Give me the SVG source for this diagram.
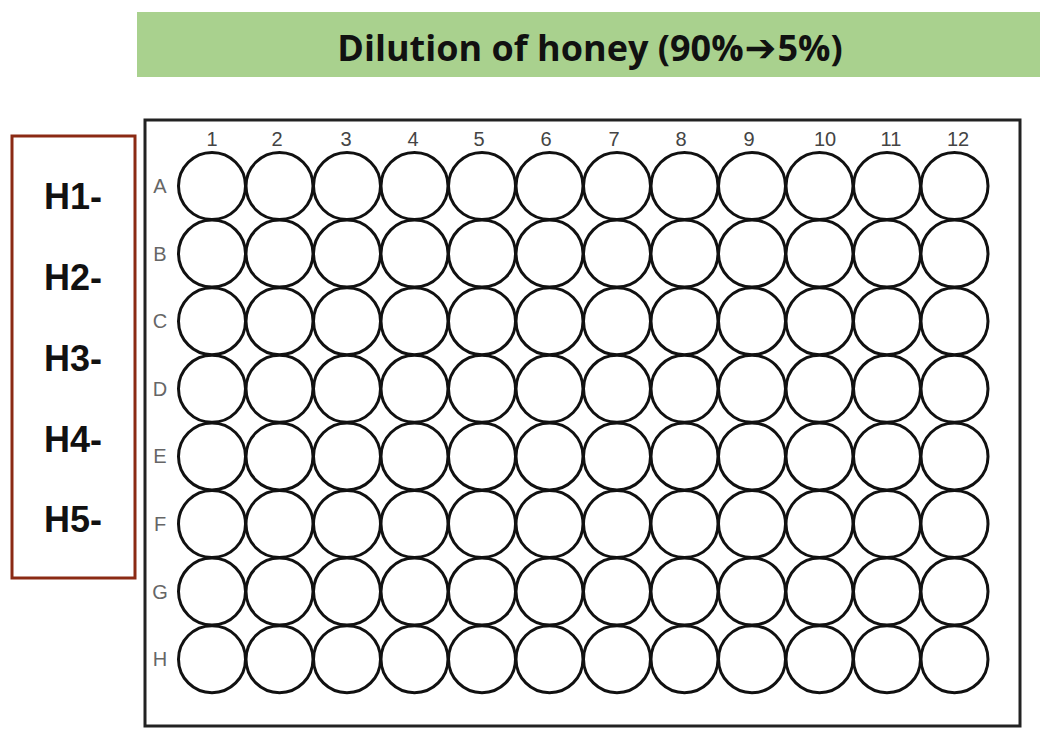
<svg xmlns="http://www.w3.org/2000/svg" width="1040" height="740" viewBox="0 0 1040 740">
<style>
.well{fill:#fff;stroke:#111;stroke-width:3}
.col{font-family:"Liberation Sans",Arial,sans-serif;font-size:20px;fill:#444;text-anchor:middle}
.row{font-family:"Liberation Sans",Arial,sans-serif;font-size:20px;fill:#666;text-anchor:middle}
.h{font-family:"Liberation Sans",Arial,sans-serif;font-size:36px;font-weight:bold;fill:#111}
</style>
<rect width="1040" height="740" fill="#fff"/>
<g id="title">
<rect x="137" y="12" width="903" height="65" fill="#a9d18e"/>
<text x="590" y="61" text-anchor="middle" font-family="'Open Sans',sans-serif" font-weight="bold" font-size="36" fill="#111">Dilution of honey (90%<tspan font-family="'DejaVu Sans',sans-serif" font-size="38" dx="1">➔</tspan><tspan dx="1">5%)</tspan></text>
</g>
<g id="legend">
<rect x="12" y="136" width="123" height="442" fill="none" stroke="#8b2a14" stroke-width="3"/>
<text class="h" x="44" y="209">H1-</text>
<text class="h" x="44" y="290">H2-</text>
<text class="h" x="44" y="371">H3-</text>
<text class="h" x="44" y="452">H4-</text>
<text class="h" x="44" y="532">H5-</text>
</g>
<g id="plate">
<rect x="145" y="120" width="875" height="606" fill="#fff" stroke="#222" stroke-width="3"/>
<g id="col-labels">
<text class="col" x="212" y="146">1</text>
<text class="col" x="277" y="146">2</text>
<text class="col" x="346" y="146">3</text>
<text class="col" x="413" y="146">4</text>
<text class="col" x="479" y="146">5</text>
<text class="col" x="546" y="146">6</text>
<text class="col" x="614" y="146">7</text>
<text class="col" x="681" y="146">8</text>
<text class="col" x="749" y="146">9</text>
<text class="col" x="825" y="146">10</text>
<text class="col" x="891" y="146">11</text>
<text class="col" x="958" y="146">12</text>
</g>
<g id="row-labels">
<text class="row" x="160" y="193">A</text>
<text class="row" x="160" y="261">B</text>
<text class="row" x="160" y="328">C</text>
<text class="row" x="160" y="396">D</text>
<text class="row" x="160" y="463">E</text>
<text class="row" x="160" y="531">F</text>
<text class="row" x="160" y="599">G</text>
<text class="row" x="160" y="666">H</text>
</g>
<g id="wells">
<circle class="well" cx="212" cy="186" r="33.5"/><circle class="well" cx="279.5" cy="186" r="33.5"/><circle class="well" cx="347" cy="186" r="33.5"/><circle class="well" cx="414.5" cy="186" r="33.5"/><circle class="well" cx="482" cy="186" r="33.5"/><circle class="well" cx="549.5" cy="186" r="33.5"/><circle class="well" cx="617" cy="186" r="33.5"/><circle class="well" cx="684.5" cy="186" r="33.5"/><circle class="well" cx="752" cy="186" r="33.5"/><circle class="well" cx="819.5" cy="186" r="33.5"/><circle class="well" cx="887" cy="186" r="33.5"/><circle class="well" cx="954.5" cy="186" r="33.5"/>
<circle class="well" cx="212" cy="253.6" r="33.5"/><circle class="well" cx="279.5" cy="253.6" r="33.5"/><circle class="well" cx="347" cy="253.6" r="33.5"/><circle class="well" cx="414.5" cy="253.6" r="33.5"/><circle class="well" cx="482" cy="253.6" r="33.5"/><circle class="well" cx="549.5" cy="253.6" r="33.5"/><circle class="well" cx="617" cy="253.6" r="33.5"/><circle class="well" cx="684.5" cy="253.6" r="33.5"/><circle class="well" cx="752" cy="253.6" r="33.5"/><circle class="well" cx="819.5" cy="253.6" r="33.5"/><circle class="well" cx="887" cy="253.6" r="33.5"/><circle class="well" cx="954.5" cy="253.6" r="33.5"/>
<circle class="well" cx="212" cy="321.2" r="33.5"/><circle class="well" cx="279.5" cy="321.2" r="33.5"/><circle class="well" cx="347" cy="321.2" r="33.5"/><circle class="well" cx="414.5" cy="321.2" r="33.5"/><circle class="well" cx="482" cy="321.2" r="33.5"/><circle class="well" cx="549.5" cy="321.2" r="33.5"/><circle class="well" cx="617" cy="321.2" r="33.5"/><circle class="well" cx="684.5" cy="321.2" r="33.5"/><circle class="well" cx="752" cy="321.2" r="33.5"/><circle class="well" cx="819.5" cy="321.2" r="33.5"/><circle class="well" cx="887" cy="321.2" r="33.5"/><circle class="well" cx="954.5" cy="321.2" r="33.5"/>
<circle class="well" cx="212" cy="388.8" r="33.5"/><circle class="well" cx="279.5" cy="388.8" r="33.5"/><circle class="well" cx="347" cy="388.8" r="33.5"/><circle class="well" cx="414.5" cy="388.8" r="33.5"/><circle class="well" cx="482" cy="388.8" r="33.5"/><circle class="well" cx="549.5" cy="388.8" r="33.5"/><circle class="well" cx="617" cy="388.8" r="33.5"/><circle class="well" cx="684.5" cy="388.8" r="33.5"/><circle class="well" cx="752" cy="388.8" r="33.5"/><circle class="well" cx="819.5" cy="388.8" r="33.5"/><circle class="well" cx="887" cy="388.8" r="33.5"/><circle class="well" cx="954.5" cy="388.8" r="33.5"/>
<circle class="well" cx="212" cy="456.4" r="33.5"/><circle class="well" cx="279.5" cy="456.4" r="33.5"/><circle class="well" cx="347" cy="456.4" r="33.5"/><circle class="well" cx="414.5" cy="456.4" r="33.5"/><circle class="well" cx="482" cy="456.4" r="33.5"/><circle class="well" cx="549.5" cy="456.4" r="33.5"/><circle class="well" cx="617" cy="456.4" r="33.5"/><circle class="well" cx="684.5" cy="456.4" r="33.5"/><circle class="well" cx="752" cy="456.4" r="33.5"/><circle class="well" cx="819.5" cy="456.4" r="33.5"/><circle class="well" cx="887" cy="456.4" r="33.5"/><circle class="well" cx="954.5" cy="456.4" r="33.5"/>
<circle class="well" cx="212" cy="524" r="33.5"/><circle class="well" cx="279.5" cy="524" r="33.5"/><circle class="well" cx="347" cy="524" r="33.5"/><circle class="well" cx="414.5" cy="524" r="33.5"/><circle class="well" cx="482" cy="524" r="33.5"/><circle class="well" cx="549.5" cy="524" r="33.5"/><circle class="well" cx="617" cy="524" r="33.5"/><circle class="well" cx="684.5" cy="524" r="33.5"/><circle class="well" cx="752" cy="524" r="33.5"/><circle class="well" cx="819.5" cy="524" r="33.5"/><circle class="well" cx="887" cy="524" r="33.5"/><circle class="well" cx="954.5" cy="524" r="33.5"/>
<circle class="well" cx="212" cy="591.6" r="33.5"/><circle class="well" cx="279.5" cy="591.6" r="33.5"/><circle class="well" cx="347" cy="591.6" r="33.5"/><circle class="well" cx="414.5" cy="591.6" r="33.5"/><circle class="well" cx="482" cy="591.6" r="33.5"/><circle class="well" cx="549.5" cy="591.6" r="33.5"/><circle class="well" cx="617" cy="591.6" r="33.5"/><circle class="well" cx="684.5" cy="591.6" r="33.5"/><circle class="well" cx="752" cy="591.6" r="33.5"/><circle class="well" cx="819.5" cy="591.6" r="33.5"/><circle class="well" cx="887" cy="591.6" r="33.5"/><circle class="well" cx="954.5" cy="591.6" r="33.5"/>
<circle class="well" cx="212" cy="659.2" r="33.5"/><circle class="well" cx="279.5" cy="659.2" r="33.5"/><circle class="well" cx="347" cy="659.2" r="33.5"/><circle class="well" cx="414.5" cy="659.2" r="33.5"/><circle class="well" cx="482" cy="659.2" r="33.5"/><circle class="well" cx="549.5" cy="659.2" r="33.5"/><circle class="well" cx="617" cy="659.2" r="33.5"/><circle class="well" cx="684.5" cy="659.2" r="33.5"/><circle class="well" cx="752" cy="659.2" r="33.5"/><circle class="well" cx="819.5" cy="659.2" r="33.5"/><circle class="well" cx="887" cy="659.2" r="33.5"/><circle class="well" cx="954.5" cy="659.2" r="33.5"/>
</g>
</g>
<g id="connectors"/>
</svg>
